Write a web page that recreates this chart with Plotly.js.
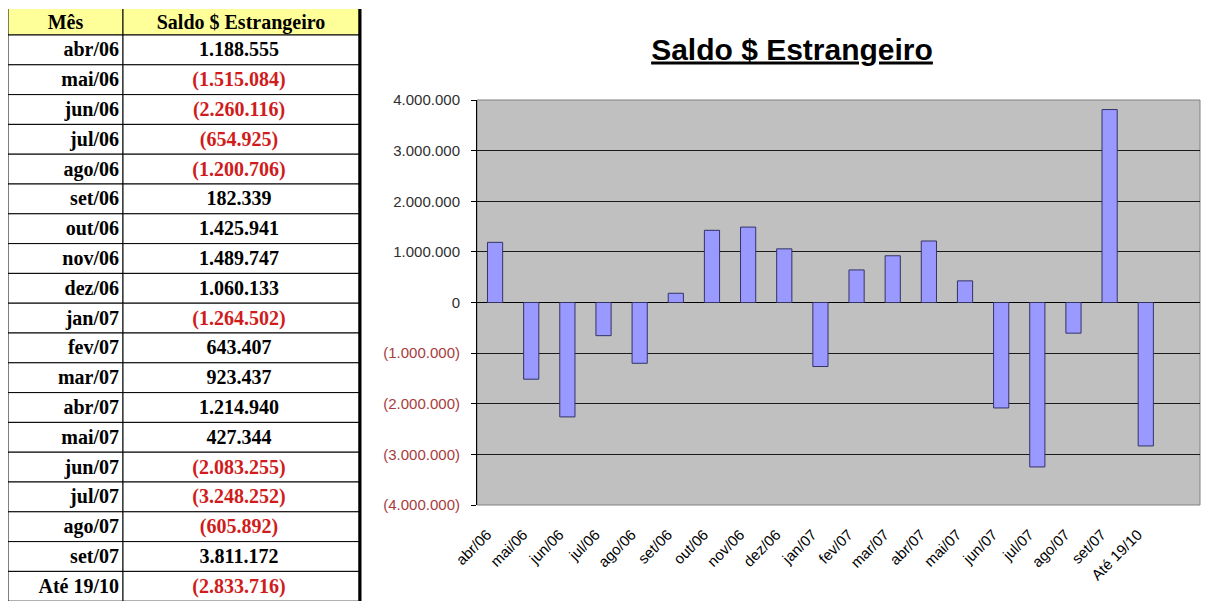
<!DOCTYPE html>
<html>
<head>
<meta charset="utf-8">
<script src="https://cdn.plot.ly/plotly-3.0.1.min.js"></script>
<style>html,body{margin:0;padding:0;background:#fff;}#chart{width:1224px;height:601px;}</style>
</head>
<body>
<div id="chart"></div>
<script>
// ---- data ----
var months = ['abr/06','mai/06','jun/06','jul/06','ago/06','set/06','out/06','nov/06','dez/06',
              'jan/07','fev/07','mar/07','abr/07','mai/07','jun/07','jul/07','ago/07','set/07','Até 19/10'];
var saldo = [1188555, -1515084, -2260116, -654925, -1200706, 182339, 1425941, 1489747, 1060133,
             -1264502, 643407, 923437, 1214940, 427344, -2083255, -3248252, -605892, 3811172, -2833716];
var headerLabels = ['Mês', 'Saldo $ Estrangeiro'];
var chartTitle = 'Saldo $ Estrangeiro';
var yTickValues = [4000000, 3000000, 2000000, 1000000, 0, -1000000, -2000000, -3000000, -4000000];

// ---- helpers ----
function fmtBR(v) {
  var s = Math.abs(v).toString().replace(/\B(?=(\d{3})+(?!\d))/g, '.');
  return v < 0 ? '(' + s + ')' : s;
}
var NEG_TABLE = '#d01c1c';
var NEG_AXIS = '#a83c3c';
var POS_AXIS = '#303030';
var SERIF = 'Liberation Serif, Times New Roman, serif';
var SANS = 'Liberation Sans, Arial, sans-serif';

var W = 1224, H = 601;

// ---------- chart geometry ----------
var plotL = 477, plotR = 1200, plotT = 100, plotB = 505;
var yDom = [1 - plotB / H, 1 - plotT / H];
var xDom = [plotL / W, plotR / W];

var xIdx = months.map(function (_, i) { return i; });
var nSlots = months.length + 1; // one trailing empty category slot
var boundaries = [];
for (var b = 0; b < nSlots; b++) boundaries.push(b + 0.5);

var yTickText = yTickValues.map(function (v) {
  return '<span style="color:' + (v < 0 ? NEG_AXIS : POS_AXIS) + '">' + fmtBR(v) + '</span>';
});

// ---------- table geometry ----------
var colWidths = [115, 236];
var tableLeft = 8, tableRight = tableLeft + colWidths[0] + colWidths[1], tableTop = 9;
var rowPitch = 29.8, headerPx = 26;
var tblTopVal = -1.5 + (rowPitch - headerPx) / rowPitch;
var tblBottomVal = tblTopVal + (H - tableTop) / rowPitch;
var textNudge = 0.05; // small downward nudge so text sits visually centred in rows

var rowIdx = [-1].concat(xIdx);          // header row is -1
var rowFill = rowIdx.map(function (r) { return r < 0 ? '#ffff99' : '#ffffff'; });

function cellColumn(c) {
  var start = 0;
  for (var k = 0; k < c; k++) start += colWidths[k];
  return {
    type: 'bar', orientation: 'h',
    xaxis: 'x3', yaxis: 'y3',
    y: rowIdx,
    x: rowIdx.map(function () { return colWidths[c]; }),
    base: rowIdx.map(function () { return start; }),
    width: rowIdx.map(function () { return 1; }),
    marker: {color: rowFill, line: {color: '#000000', width: 1}},
    hoverinfo: 'skip', showlegend: false
  };
}

var headerY = -1 + (rowPitch - headerPx) / rowPitch / 2 + textNudge;
var headerText = {
  type: 'scatter', mode: 'text', xaxis: 'x3', yaxis: 'y3',
  x: [colWidths[0] / 2, colWidths[0] + colWidths[1] / 2],
  y: [headerY, headerY],
  text: headerLabels.map(function (h) { return '<b>' + h + '</b>'; }),
  textposition: 'middle center',
  textfont: {family: SERIF, size: 20, color: '#000000'},
  cliponaxis: false, hoverinfo: 'skip', showlegend: false
};
var monthText = {
  type: 'scatter', mode: 'text', xaxis: 'x3', yaxis: 'y3',
  x: xIdx.map(function () { return colWidths[0] - 4; }),
  y: xIdx.map(function (i) { return i + textNudge; }),
  text: months.map(function (m) { return '<b>' + m + '</b>'; }),
  textposition: 'middle left',
  textfont: {family: SERIF, size: 20, color: '#000000'},
  cliponaxis: false, hoverinfo: 'skip', showlegend: false
};
var valueText = {
  type: 'scatter', mode: 'text', xaxis: 'x3', yaxis: 'y3',
  x: xIdx.map(function () { return colWidths[0] + colWidths[1] / 2 - 2; }),
  y: xIdx.map(function (i) { return i + textNudge; }),
  text: saldo.map(function (v) { return '<b>' + fmtBR(v) + '</b>'; }),
  textposition: 'middle center',
  textfont: {family: SERIF, size: 20,
             color: saldo.map(function (v) { return v < 0 ? NEG_TABLE : '#000000'; })},
  cliponaxis: false, hoverinfo: 'skip', showlegend: false
};

var barTrace = {
  type: 'bar',
  x: xIdx,
  y: saldo,
  marker: {color: '#9999ff', line: {color: '#333366', width: 1}},
  hoverinfo: 'x+y',
  showlegend: false
};

var hiddenAxis = {showgrid: false, zeroline: false, showline: false, showticklabels: false,
                  ticks: '', fixedrange: true};

var layout = {
  width: W, height: H,
  margin: {l: 0, r: 0, t: 0, b: 0, pad: 0},
  paper_bgcolor: '#ffffff',
  plot_bgcolor: '#c0c0c0',
  showlegend: false,
  barmode: 'overlay',
  bargap: 0.58,
  title: {
    text: '<b><u>' + chartTitle + '</u></b>',
    font: {family: SANS, size: 30, color: '#000000'},
    x: 792 / W, xanchor: 'center', xref: 'paper',
    y: 1 - 49 / H, yanchor: 'middle', yref: 'container'
  },
  xaxis: {
    domain: xDom,
    range: [-0.5, nSlots - 0.5],
    tickmode: 'array',
    tickvals: xIdx,
    ticktext: months,
    tickangle: -45,
    ticks: '',
    ticklabelstandoff: 17,
    ticklabelshift: -8,
    tickfont: {family: SANS, size: 15, color: '#000000'},
    showgrid: false, zeroline: false, showline: false, fixedrange: true
  },
  xaxis2: {
    overlaying: 'x',
    anchor: 'free',
    position: (yDom[0] + yDom[1]) / 2,
    range: [-0.5, nSlots - 0.5],
    tickmode: 'array',
    tickvals: boundaries,
    ticks: 'outside', ticklen: 4, tickwidth: 1, tickcolor: '#000000',
    showticklabels: false,
    showline: true, linecolor: '#000000', linewidth: 1,
    showgrid: false, zeroline: false, fixedrange: true
  },
  yaxis: {
    domain: yDom,
    range: [-4000000, 4000000],
    tickmode: 'array',
    tickvals: yTickValues,
    ticktext: yTickText,
    ticks: 'outside', ticklen: 5, tickcolor: '#000000',
    ticklabelstandoff: 8,
    tickfont: {family: SANS, size: 15, color: POS_AXIS},
    showgrid: true, gridcolor: '#1a1a1a', gridwidth: 1,
    zeroline: true, zerolinecolor: '#000000', zerolinewidth: 1,
    showline: true, linecolor: '#000000', linewidth: 1,
    fixedrange: true
  },
  xaxis3: Object.assign({}, hiddenAxis, {
    anchor: 'y3',
    domain: [tableLeft / W, tableRight / W],
    range: [0, colWidths[0] + colWidths[1]]
  }),
  yaxis3: Object.assign({}, hiddenAxis, {
    anchor: 'x3',
    domain: [0, 1 - tableTop / H],
    range: [tblBottomVal, tblTopVal]
  }),
  shapes: [
    {type: 'rect', xref: 'x domain', yref: 'y domain', x0: 0, x1: 1, y0: 0, y1: 1,
     line: {color: '#808080', width: 1}, layer: 'below'},
    {type: 'line', xref: 'paper', yref: 'paper', x0: (tableRight + 1) / W, x1: (tableRight + 1) / W,
     y0: 0, y1: 1 - tableTop / H, line: {color: '#000000', width: 3}}
  ]
};

Plotly.newPlot('chart', [cellColumn(0), cellColumn(1), headerText, monthText, valueText, barTrace],
               layout, {staticPlot: true, displayModeBar: false});
</script>
</body>
</html>
